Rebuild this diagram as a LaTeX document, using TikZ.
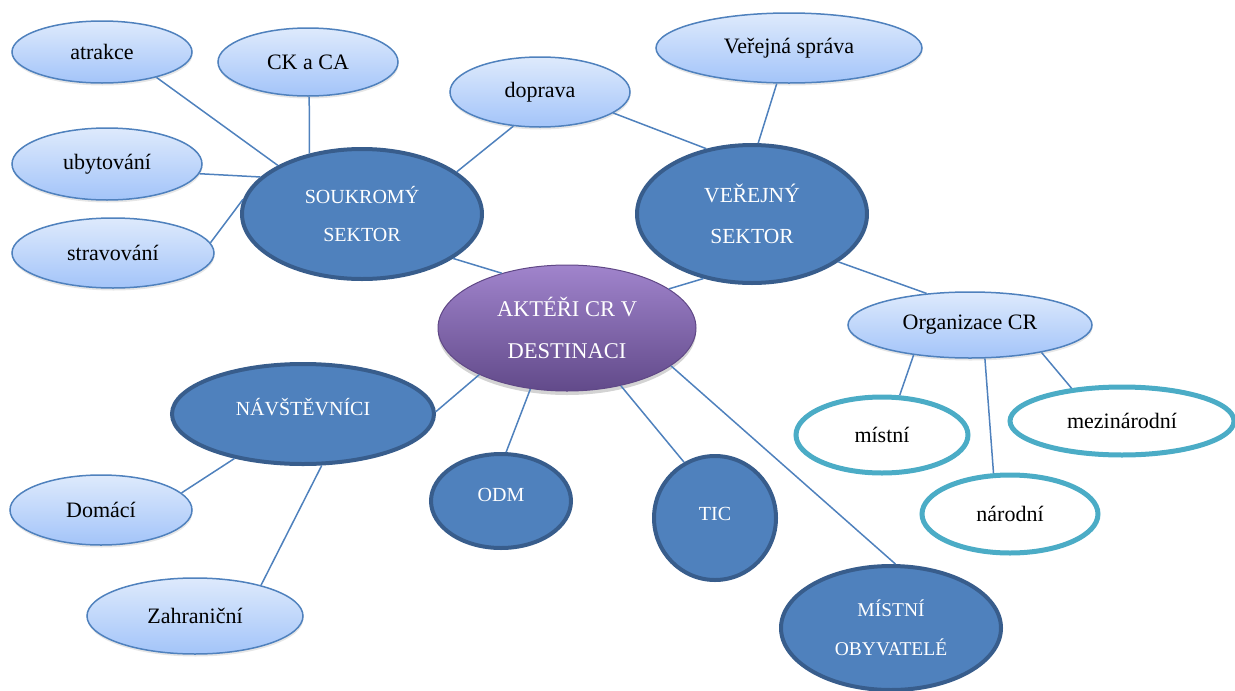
\documentclass[tikz,border=0pt]{standalone}
\usepackage{fontspec}
\setmainfont{Liberation Serif}
\usepackage{xcolor}
\usetikzlibrary{shapes.geometric, shadows}

\definecolor{linkblue}{RGB}{79,129,189}
\definecolor{rimblue}{RGB}{56,93,140}
\definecolor{paletop}{RGB}{222,234,252}
\definecolor{palebot}{RGB}{163,196,249}
\definecolor{rimteal}{RGB}{75,172,198}
\definecolor{plumtop}{RGB}{160,132,204}
\definecolor{plummid}{RGB}{128,100,166}
\definecolor{plumbot}{RGB}{98,74,138}
\definecolor{plumrim}{RGB}{96,72,134}

\begin{document}
\begin{tikzpicture}[x=1pt,y=-1pt]
\tikzstyle{topic}=[ellipse, draw=linkblue, line width=1.5pt, top color=paletop, bottom color=palebot,
  inner sep=0pt, font=\fontsize{22}{26}\selectfont,
  drop shadow={opacity=0.2, shadow xshift=0.5pt, shadow yshift=-2.5pt}]
\tikzstyle{sector}=[ellipse, draw=rimblue, line width=4pt, fill=linkblue, text=white,
  inner sep=0pt, align=center]
\tikzstyle{level}=[ellipse, draw=rimteal, line width=5pt, fill=white, inner sep=0pt,
  font=\fontsize{22}{26}\selectfont]
\tikzstyle{link}=[draw=linkblue, line width=1.5pt]

\useasboundingbox (0,0) rectangle (1235,691);

% centre
\node[ellipse, draw=plumrim, line width=1pt, top color=plumtop, middle color=plummid, bottom color=plumbot,
  text=white, inner sep=0pt, align=center, font=\fontsize{22.5}{42}\selectfont,
  minimum width=258pt, minimum height=126pt,
  drop shadow={opacity=0.35, shadow xshift=0pt, shadow yshift=-4pt}]
  (aktery) at (567,328) {AKTÉŘI CR V\\DESTINACI};

% sectors
\node[sector, font=\fontsize{20}{38}\selectfont, minimum width=240pt, minimum height=130pt]
  (soukromy) at (362,214) {SOUKROMÝ\\SEKTOR};
\node[sector, font=\fontsize{21.5}{41}\selectfont, minimum width=230pt, minimum height=138pt]
  (verejny) at (752,214) {VEŘEJNÝ\\SEKTOR};
\node[sector, font=\fontsize{20}{24}\selectfont, minimum width=262pt, minimum height=100pt, text depth=14pt]
  (navstevnici) at (303,414) {NÁVŠTĚVNÍCI};
\node[sector, font=\fontsize{20}{24}\selectfont, minimum width=140pt, minimum height=94pt, text depth=12pt]
  (odm) at (501,501) {ODM};
\node[sector, font=\fontsize{20}{24}\selectfont, minimum width=122pt, minimum height=124pt, text depth=9pt]
  (tic) at (715,518) {TIC};
\node[sector, font=\fontsize{19.5}{39}\selectfont, minimum width=220pt, minimum height=124pt]
  (obyvatele) at (891,628) {MÍSTNÍ\\OBYVATELÉ};

% private sector
\node[topic, minimum width=180pt, minimum height=62pt] (atrakce) at (102,52) {atrakce};
\node[topic, minimum width=180pt, minimum height=68pt] (ckca) at (308,62) {CK a CA};
\node[topic, minimum width=190pt, minimum height=72pt] (ubytovani) at (107,164) {ubytování};
\node[topic, minimum width=202pt, minimum height=70pt] (stravovani) at (113,253) {stravování};
\node[topic, minimum width=180pt, minimum height=70pt] (doprava) at (540,92) {doprava};

% public sector
\node[topic, minimum width=266pt, minimum height=70pt] (sprava) at (789,48) {Veřejná správa};
\node[topic, minimum width=244pt, minimum height=66pt] (organizace) at (970,325) {Organizace CR};
\node[level, minimum width=172pt, minimum height=76pt] (mistni) at (882,435) {místní};
\node[level, minimum width=224pt, minimum height=68pt] (mezinarodni) at (1122,421) {mezinárodní};
\node[level, minimum width=176pt, minimum height=78pt] (narodni) at (1010,514) {národní};

% visitors
\node[topic, minimum width=182pt, minimum height=70pt] (domaci) at (101,510) {Domácí};
\node[topic, minimum width=216pt, minimum height=76pt] (zahranicni) at (195,616) {Zahraniční};

\path[link]
  (atrakce.-25) edge (soukromy.150)
  (ckca.-88) edge (soukromy.131)
  (ubytovani.-6) edge (soukromy.160)
  (stravovani.6) edge (soukromy.173)
  (soukromy.24) edge (doprava.-128)
  (doprava.-16) edge (verejny.125)
  (sprava.-109) edge (verejny.85)
  (soukromy.-26) edge (aktery.140)
  (verejny.-127) edge (aktery.21)
  (verejny.-29) edge (organizace.144)
  (organizace.-152) edge (mistni.66)
  (organizace.-66) edge (narodni.112)
  (organizace.-21) edge (mezinarodni.147)
  (aktery.-152) edge (navstevnici.1)
  (aktery.-121) edge (odm.84)
  (aktery.-47) edge (tic.119)
  (aktery.-20) edge (obyvatele.86)
  (navstevnici.-147) edge (domaci.12)
  (navstevnici.-70) edge (zahranicni.25);
\end{tikzpicture}
\end{document}
